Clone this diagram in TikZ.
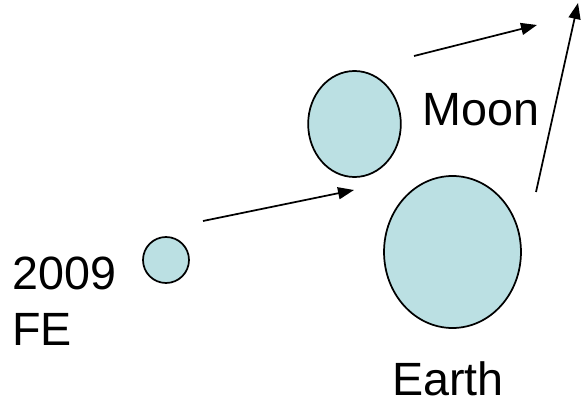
\documentclass[tikz,border=0pt]{standalone}
\usepackage{fontspec}
\setmainfont{Liberation Sans}
\usetikzlibrary{shapes.geometric,arrows.meta}
\definecolor{bodyfill}{HTML}{BBE0E3}
\tikzset{
  body/.style={ellipse, draw=black, line width=1.3pt, fill=bodyfill, inner sep=0pt},
  label/.style={inner sep=0pt, font=\fontsize{35}{42}\selectfont},
  motion/.style={draw=black, line width=1.3pt, -{Triangle[length=12pt,width=9pt]}}
}
\begin{document}
\begin{tikzpicture}[x=0.75pt,y=-0.75pt]
\useasboundingbox (0,0) rectangle (582,399);
\node[body, minimum width=34.5pt, minimum height=34.5pt] (fe) at (166,260) {};
\node[body, minimum width=69.5pt, minimum height=79.5pt] (moon) at (354.5,124) {};
\node[body, minimum width=102.7pt, minimum height=114pt] (earth) at (452.5,252) {};
\node[label, anchor=base west] (moonlbl) at (422,126) {Moon};
\node[label, anchor=north west, align=left] (felbl) at (12,257) {2009\\FE};
\node[label, anchor=base west] (earthlbl) at (392,395.5) {Earth};
\coordinate (a1s) at (203,221);
\coordinate (a1e) at (354,190);
\coordinate (a2s) at (414,56);
\coordinate (a2e) at (537,25);
\coordinate (a3s) at (536,192);
\coordinate (a3e) at (578,3);
\draw[motion] (a1s) -- (a1e);
\draw[motion] (a2s) -- (a2e);
\draw[motion] (a3s) -- (a3e);
\end{tikzpicture}
\end{document}
